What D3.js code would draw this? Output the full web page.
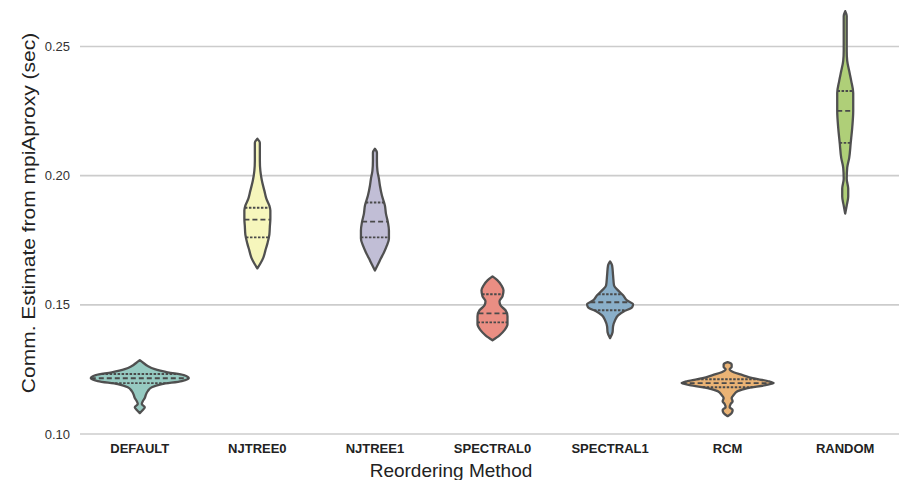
<!DOCTYPE html>
<html>
<head>
<meta charset="utf-8">
<script src="https://cdn.jsdelivr.net/npm/d3@7"></script>
<style>
  body { margin: 0; background: #fff; }
  text { font-family: "Liberation Sans", Arial, sans-serif; }
</style>
</head>
<body>
<script>

var categories = ["DEFAULT", "NJTREE0", "NJTREE1", "SPECTRAL0", "SPECTRAL1", "RCM", "RANDOM"];
var yTicks = [0.10, 0.15, 0.20, 0.25];

// violin outlines: [value (sec), relative density]
var shapeDefault = [[0.1286,0],[0.1274,.08],[0.1263,.16],[0.1251,.30],[0.1239,.56],[0.1228,.88],[0.1216,.98],
  [0.1205,.84],[0.1193,.44],[0.1181,.24],[0.1166,.16],[0.1151,.12],[0.1139,.10],[0.1127,.06],[0.1116,.04],
  [0.1104,.10],[0.1093,.06],[0.1081,0]];
var shapeNjtree0 = [[0.2143,0],[0.2127,.05],[0.2097,.05],[0.2058,.05],[0.2019,.06],[0.1981,.09],[0.1942,.14],
  [0.1911,.18],[0.1884,.24],[0.1865,.26],[0.1834,.26],[0.1803,.25],[0.1772,.24],[0.1737,.20],[0.1710,.16],
  [0.1683,.12],[0.1660,.06],[0.1641,0]];
var shapeNjtree1 = [[0.2104,0],[0.2089,.04],[0.2058,.04],[0.2019,.05],[0.1988,.08],[0.1961,.10],[0.1923,.14],
  [0.1884,.20],[0.1853,.22],[0.1819,.26],[0.1788,.28],[0.1757,.28],[0.1730,.24],[0.1703,.18],[0.1680,.12],
  [0.1656,.06],[0.1633,0]];
var shapeSpectral0 = [[0.1610,0],[0.1595,.10],[0.1575,.18],[0.1556,.22],[0.1533,.20],[0.1514,.14],[0.1498,.16],
  [0.1479,.26],[0.1456,.30],[0.1425,.30],[0.1402,.24],[0.1382,.14],[0.1363,0]];
var shapeSpectral1 = [[0.1668,0],[0.1653,.04],[0.1614,.06],[0.1575,.08],[0.1556,.16],[0.1537,.26],[0.1517,.34],
  [0.1502,.46],[0.1490,.44],[0.1475,.28],[0.1459,.16],[0.1440,.10],[0.1417,.06],[0.1394,.05],[0.1371,0]];
var shapeRcm = [[0.1278,0],[0.1270,.08],[0.1259,.08],[0.1251,.04],[0.1239,.12],[0.1228,.30],[0.1216,.50],
  [0.1205,.80],[0.1197,.92],[0.1189,.76],[0.1178,.40],[0.1166,.20],[0.1151,.12],[0.1139,.08],[0.1127,.10],
  [0.1116,.06],[0.1104,.04],[0.1093,.10],[0.1081,.08],[0.1069,0]];
var shapeRandom = [[0.2637,0],[0.2618,.03],[0.2560,.03],[0.2483,.03],[0.2444,.04],[0.2405,.08],[0.2367,.12],
  [0.2320,.16],[0.2251,.16],[0.2185,.14],[0.2127,.11],[0.2069,.08],[0.2031,.04],[0.1988,.03],[0.1950,.06],
  [0.1919,.06],[0.1884,.03],[0.1853,0]];

// upper quartile, median, lower quartile
var quartDefault = [0.1232, 0.1216, 0.1197];
var quartNjtree0 = [0.1876, 0.1830, 0.1761];
var quartNjtree1 = [0.1896, 0.1822, 0.1761];
var quartSpectral0 = [0.1541, 0.1467, 0.1432];
var quartSpectral1 = [0.1541, 0.1510, 0.1479];
var quartRcm = [0.1212, 0.1197, 0.1181];
var quartRandom = [0.2328, 0.2251, 0.2127];

var shapes = [shapeDefault, shapeNjtree0, shapeNjtree1, shapeSpectral0, shapeSpectral1, shapeRcm, shapeRandom];
var quarts = [quartDefault, quartNjtree0, quartNjtree1, quartSpectral0, quartSpectral1, quartRcm, quartRandom];

var width = 899, height = 480;

var xScale = d3.scaleBand().domain(categories).range([81, 904]);
var yScale = d3.scaleLinear().domain([0.10, 0.268]).range([434, 0]);
var wScale = d3.scaleLinear().domain([0, 1]).range([0, 50]);

var colors = d3.schemeSet3.slice(0, 7).map(function(c) {
  var h = d3.hsl(c);
  h.s *= 0.75;
  return h.formatHex();
});

var svg = d3.select("body").append("svg")
    .attr("width", width)
    .attr("height", height);

// grid
svg.append("g").selectAll("line")
    .data(yTicks)
    .enter().append("line")
    .attr("x1", 80)
    .attr("x2", width)
    .attr("y1", function(d) { return yScale(d); })
    .attr("y2", function(d) { return yScale(d); })
    .attr("stroke", "#cccccc")
    .attr("stroke-width", 1.6);

svg.append("g").selectAll("text")
    .data(yTicks)
    .enter().append("text")
    .attr("x", 70)
    .attr("y", function(d) { return yScale(d); })
    .attr("dy", "0.35em")
    .attr("text-anchor", "end")
    .attr("font-size", "13px")
    .attr("fill", "#333")
    .text(function(d) { return d3.format(".2f")(d); });

// violins
function interpWidth(shape, v) {
  for (var i = 0; i < shape.length - 1; i++) {
    var a = shape[i], b = shape[i + 1];
    if (v <= a[0] && v >= b[0]) {
      var t = (a[0] - v) / (a[0] - b[0]);
      return a[1] + t * (b[1] - a[1]);
    }
  }
  return 0;
}

categories.forEach(function(cat, i) {
  var cx = xScale(cat) + xScale.bandwidth() / 2;
  var area = d3.area()
      .curve(d3.curveMonotoneY)
      .y(function(d) { return yScale(d[0]); })
      .x0(function(d) { return cx - wScale(d[1]); })
      .x1(function(d) { return cx + wScale(d[1]); });

  var g = svg.append("g");
  g.append("path")
      .datum(shapes[i])
      .attr("d", area)
      .attr("fill", colors[i])
      .attr("stroke", "#505050")
      .attr("stroke-width", 2.3)
      .attr("stroke-linejoin", "round");

  g.selectAll("line")
      .data(quarts[i])
      .enter().append("line")
      .attr("x1", function(d) { return cx - wScale(interpWidth(shapes[i], d)); })
      .attr("x2", function(d) { return cx + wScale(interpWidth(shapes[i], d)); })
      .attr("y1", function(d) { return yScale(d); })
      .attr("y2", function(d) { return yScale(d); })
      .attr("stroke", "#4a4a4a")
      .attr("stroke-width", 1.9)
      .attr("stroke-dasharray", function(d, j) { return j === 1 ? "5,3" : "2.5,1.5"; });
});

// x tick labels
svg.append("g").selectAll("text")
    .data(categories)
    .enter().append("text")
    .attr("x", function(d) { return xScale(d) + xScale.bandwidth() / 2; })
    .attr("y", 453)
    .attr("text-anchor", "middle")
    .attr("font-size", "13px")
    .attr("font-weight", "bold")
    .attr("fill", "#222")
    .text(function(d) { return d; });

svg.append("text")
    .attr("x", 451)
    .attr("y", 477)
    .attr("text-anchor", "middle")
    .attr("font-size", "19px")
    .attr("fill", "#222")
    .text("Reordering Method");

svg.append("text")
    .attr("transform", "translate(35,213) rotate(-90) scale(1.2,1)")
    .attr("text-anchor", "middle")
    .attr("font-size", "17.5px")
    .attr("fill", "#222")
    .text("Comm. Estimate from mpiAproxy (sec)");

</script>
</body>
</html>
